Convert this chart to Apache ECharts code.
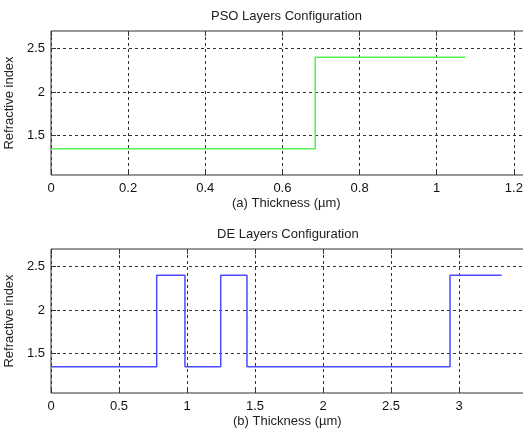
<!DOCTYPE html>
<html><head><meta charset="utf-8">
<script src="https://cdn.jsdelivr.net/npm/echarts@6/dist/echarts.min.js"></script>
<style>html,body{margin:0;padding:0;background:#fff}#c{width:523px;height:429px}</style>
</head><body><div id="c"></div>
<script>
// Layer boundaries (µm) and refractive index of each layer
const psoBounds = [0, 0.685, 1.074];
const psoIndex = [1.35, 2.4];
const deBounds = [0, 0.777, 0.985, 1.248, 1.441, 2.934, 3.314];
const deIndex = [1.35, 2.4, 1.35, 2.4, 1.35, 2.4];
const yTicks = [1.5, 2, 2.5];
const titles = ['PSO Layers Configuration', 'DE Layers Configuration'];
const xNames = ['(a) Thickness (µm)', '(b) Thickness (µm)'];
const yName = 'Refractive index';

function stepPoints(bounds, idx) {
  const pts = idx.map((v, i) => [bounds[i], v]);
  pts.push([bounds[bounds.length - 1], idx[idx.length - 1]]);
  return pts;
}

const FONT = 'Liberation Sans, Arial, sans-serif';
const grid = (top, width) => ({left: 51, top: top, height: 144, width: width, show: true,
  outerBoundsMode: 'none', containLabel: false,
  borderColor: '#333', borderWidth: 1, backgroundColor: 'transparent'});
const split = {show: true, lineStyle: {color: '#333', type: [3, 3], width: 1}};
const tick = {show: true, inside: true, length: 5, lineStyle: {color: '#333', width: 1}};
const xAx = (gi, max, interval) => ({type: 'value', gridIndex: gi, min: 0, max: max, interval: interval,
  position: 'bottom',
  axisLine: {show: false}, axisTick: tick, splitLine: split,
  axisLabel: {color: '#111', fontSize: 13, fontFamily: FONT, margin: 7, showMaxLabel: false}});
const xTop = (gi, max, interval) => ({type: 'value', gridIndex: gi, min: 0, max: max, interval: interval,
  position: 'top', axisLine: {show: false}, axisTick: tick, splitLine: {show: false},
  axisLabel: {show: false}});
const yAx = (gi) => ({type: 'value', gridIndex: gi, min: 1.05, max: 2.7,
  name: yName, nameLocation: 'middle', nameGap: 32, nameRotate: 90,
  nameTextStyle: {color: '#2a2222', fontSize: 13, fontFamily: FONT},
  axisLine: {show: false}, axisTick: Object.assign({customValues: yTicks}, tick), splitLine: split,
  axisLabel: {color: '#111', fontSize: 13, fontFamily: FONT, margin: 6, customValues: yTicks}});
const ttl = (text, left, top) => ({text: text, left: left, top: top, padding: 0,
  textStyle: {fontSize: 13, fontWeight: 'normal', color: '#222', fontFamily: FONT}});

const chart = echarts.init(document.getElementById('c'), null, {renderer: 'canvas'});
chart.setOption({
  backgroundColor: '#fff',
  animation: false,
  title: [ttl(titles[0], 211, 10), ttl(titles[1], 217, 228), ttl(xNames[0], 232, 197), ttl(xNames[1], 233, 415)],
  grid: [grid(31, 540), grid(249, 476)],
  xAxis: [xAx(0, 1.4, 0.2), xAx(1, 3.5, 0.5), xTop(0, 1.4, 0.2), xTop(1, 3.5, 0.5)],
  yAxis: [yAx(0), yAx(1)],
  series: [
    {type: 'line', xAxisIndex: 0, yAxisIndex: 0, step: 'end', symbol: 'none',
     data: stepPoints(psoBounds, psoIndex), lineStyle: {color: '#55f055', width: 1.5}},
    {type: 'line', xAxisIndex: 1, yAxisIndex: 1, step: 'end', symbol: 'none',
     data: stepPoints(deBounds, deIndex), lineStyle: {color: '#4a4aff', width: 1.5}}
  ]
});
</script></body></html>
